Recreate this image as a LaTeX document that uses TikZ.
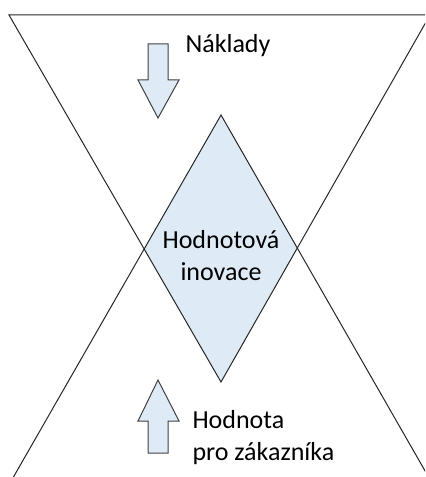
\documentclass[tikz,border=0pt]{standalone}
\usepackage{fontspec}
\setmainfont{Carlito}
\usepackage{tikz}
\usetikzlibrary{calc}
\definecolor{lightfill}{RGB}{222,235,247}

\begin{document}
\begin{tikzpicture}[x=0.75pt,y=-0.75pt,line width=0.75pt,
    txt/.style={inner sep=0pt,font=\fontsize{19.5}{24}\selectfont},
    blockarrow/.style={draw=black!75,fill=lightfill,line join=miter}]
        \clip (0,0) rectangle (425,477);
        % two triangles, the overlap is the diamond
        \coordinate (costL) at (9,15);
        \coordinate (costR) at (430,15);
        \coordinate (costTip) at (221,382);
        \coordinate (valL) at (6,490);
        \coordinate (valR) at (436,490);
        \coordinate (valTip) at (221,115);
        \coordinate (innL) at (intersection of costL--costTip and valL--valTip);
        \coordinate (innR) at (intersection of costR--costTip and valR--valTip);
        \fill[lightfill] (valTip) -- (innL) -- (costTip) -- (innR) -- cycle;
        \draw[black!85] (costL) -- (costR) -- (costTip) -- cycle;
        \draw[black!85] (valL) -- (valTip) -- (valR);
        % block arrows
        \draw[blockarrow] (148,44) -- (168,44) -- (168,80) -- (179,80) -- (158,118) -- (138,80) -- (148,80) -- cycle;
        \draw[blockarrow] (148,453) -- (168,453) -- (168,421) -- (179,421) -- (158,380) -- (138,421) -- (148,421) -- cycle;
        % labels
        \node[txt,anchor=base west] (naklady) at (185,53) {Náklady};
        \node[txt,align=center,anchor=base] (inovace) at (221,280) {Hodnotová\\inovace};
        \node[txt,align=left,anchor=base west] (hodnota) at (192,460) {Hodnota\\pro zákazníka};
    \end{tikzpicture}
\end{document}
